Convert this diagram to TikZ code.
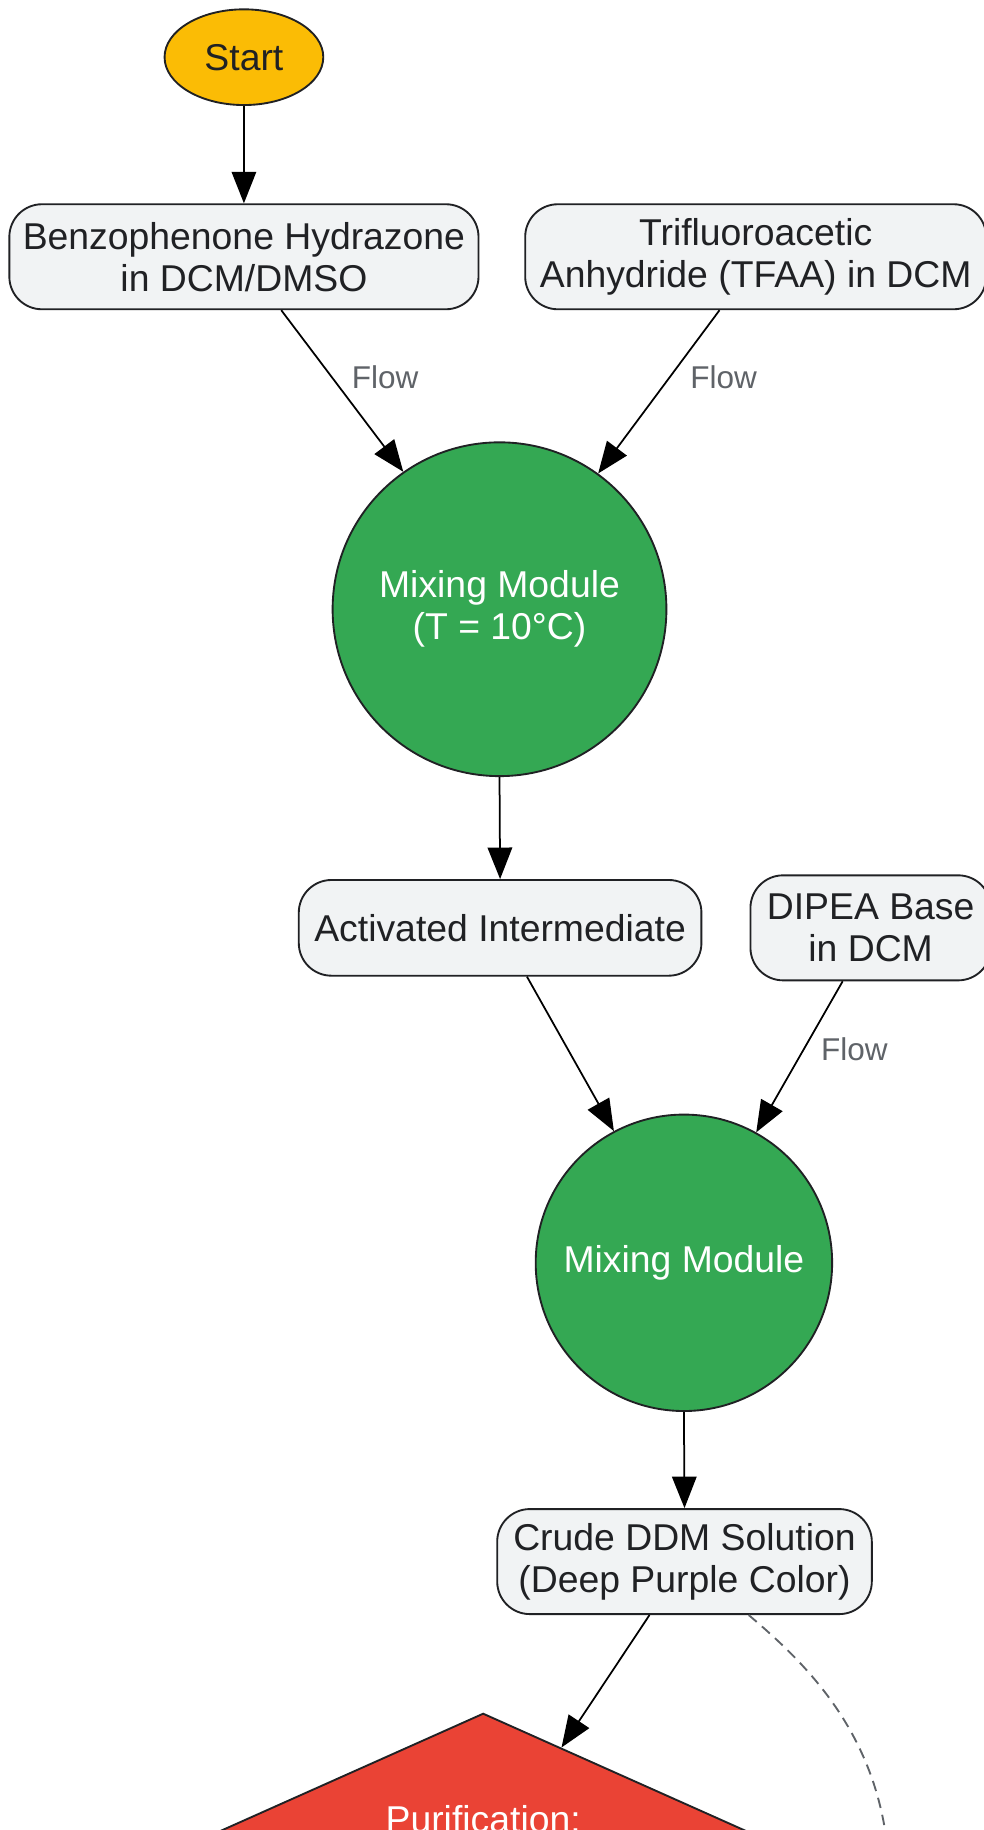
\documentclass[tikz,border=0pt]{standalone}
\usepackage{fontspec}
\setmainfont{Liberation Sans}
\usetikzlibrary{shapes.geometric,arrows.meta,calc}
\definecolor{startc}{HTML}{FBBC05}
\definecolor{boxc}{HTML}{F1F3F4}
\definecolor{greenc}{HTML}{34A853}
\definecolor{redc}{HTML}{EA4335}
\definecolor{darkc}{HTML}{202124}
\definecolor{grayc}{HTML}{5F6368}
\begin{document}
\begin{tikzpicture}[x=1pt,y=-1pt,
  every node/.style={font=\fontsize{32}{36}\selectfont, align=center, inner sep=0pt},
  startnode/.style={ellipse, draw=darkc, fill=startc, text=darkc, line width=1.6pt, minimum width=136pt, minimum height=82pt},
  boxnode/.style={rectangle, draw=darkc, fill=boxc, text=darkc, rounded corners=28pt, line width=1.6pt},
  mixnode/.style={circle, draw=darkc, fill=greenc, text=white, line width=1.6pt},
  purnode/.style={diamond, draw=darkc, fill=redc, line width=1.6pt, minimum width=770pt, minimum height=344pt},
  flowlab/.style={font=\fontsize{27}{30}\selectfont, text=grayc},
  conn/.style={draw=black, line width=1.5pt, -{Triangle[length=27pt,width=21pt]}},
  dashconn/.style={draw=grayc, line width=1.6pt, dash pattern=on 9pt off 6pt}
]
\useasboundingbox (0,0) rectangle (843,1568);
\clip (0,0) rectangle (843,1568);
\fill[white] (0,0) rectangle (843,1568);

\node[startnode] (start) at (209,49) {Start};
\node[boxnode, minimum width=402pt, minimum height=90pt] (benz) at (209,220) {Benzophenone Hydrazone\\in DCM/DMSO};
\node[boxnode, minimum width=395pt, minimum height=90pt] (tfaa) at (647.5,220) {Trifluoroacetic\\Anhydride (TFAA) in DCM};
\node[mixnode, minimum size=286pt] (mix1) at (428,522) {Mixing Module\\(T = 10°C)};
\node[boxnode, minimum width=345pt, minimum height=82pt] (act) at (428.5,795) {Activated Intermediate};
\node[boxnode, minimum width=206pt, minimum height=90pt] (dipea) at (746,795) {DIPEA Base\\in DCM};
\node[mixnode, minimum size=254pt] (mix2) at (586,1082) {Mixing Module};
\node[boxnode, minimum width=321pt, minimum height=90pt] (crude) at (586.5,1338) {Crude DDM Solution\\(Deep Purple Color)};
\node[purnode] (pur) at (414,1640) {};
\node[text=white, anchor=base] (purtext) at (414,1570) {Purification:};

\node[flowlab] (f1) at (330,323) {Flow};
\node[flowlab] (f2) at (620,323) {Flow};
\node[flowlab] (f3) at (732,899) {Flow};

\draw[conn] (start.south) -- (benz.north);
\draw[conn] ([xshift=32pt]benz.south) -- (mix1.125.7);
\draw[conn] ([xshift=-31pt]tfaa.south) -- (mix1.54.3);
\draw[conn] (mix1.south) -- (act.north);
\draw[conn] ([xshift=23pt]act.south) -- (mix2.118.5);
\draw[conn] ([xshift=-24pt]dipea.south) -- (mix2.61.1);
\draw[conn] (mix2.south) -- (crude.north);
\draw[conn] ([xshift=-30pt]crude.south) -- ($(pur.north)!0.174!(pur.east)$);
\coordinate (dend) at (762,1610);
\draw[dashconn] ([xshift=55pt]crude.south) .. controls (690,1425) and (760,1490) .. (dend);
\end{tikzpicture}
\end{document}
